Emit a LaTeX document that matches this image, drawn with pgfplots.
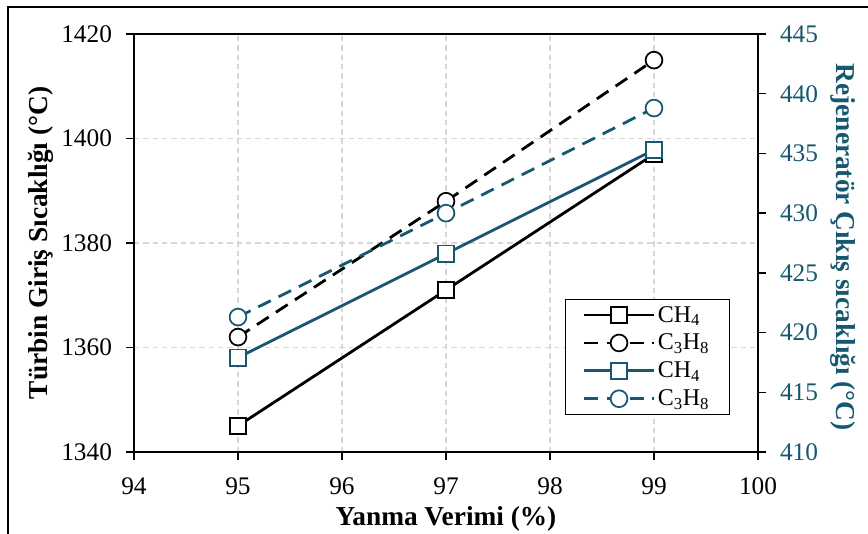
\documentclass[border=0pt]{standalone}
\usepackage{fontspec}
\setmainfont{Liberation Serif}
\usepackage{pgfplots}
\pgfplotsset{compat=1.18}
\definecolor{tealc}{RGB}{22,88,112}
\definecolor{blk}{RGB}{0,0,0}
\definecolor{gridgray}{RGB}{215,215,215}
\begin{document}
\begin{tikzpicture}
\pgfplotsset{
  common/.style={
    at={(0,0)}, anchor=south west,
    scale only axis, width=468pt, height=313.5pt,
    xmin=94, xmax=100,
    tick align=outside, major tick length=6pt,
    axis line style={line width=1.1pt},
    every tick/.style={black, line width=1.1pt},
    ticklabel style={font=\fontsize{19}{20}\selectfont},
    /pgf/number format/assume math mode=true,
    /pgf/number format/1000 sep={},
  },
  legend image code/.code={\draw[mark repeat=2,mark phase=2,#1] plot coordinates {(0pt,0pt) (26pt,0pt) (52pt,0pt)};},
  sq/.style={line width=2.1pt, mark=square*, mark size=6.1pt, mark options={solid, fill=white, line width=1.3pt}},
  ci/.style={line width=2.1pt, dash pattern=on 10.5pt off 6.5pt, mark=*, mark size=6.3pt, mark options={solid, fill=white, line width=1.3pt}},
  leftscale/.style={y filter/.expression={410+(y-1340)*35/80}},
}
\useasboundingbox (-100.5pt,-60.75pt) rectangle (550.5pt,339pt);
\draw[line width=1.5pt] (-94.5pt,-80pt) -- (-94.5pt,333.75pt) -- (570pt,333.75pt);

\begin{axis}[common,
  ymin=1340, ymax=1420,
  xtick={94,95,...,100}, ytick={1340,1360,...,1420},
  xtick pos=bottom, ytick pos=left,
  xticklabel style={yshift=-10pt},
  yticklabel style={xshift=-7pt},
  grid=major, major grid style={gridgray, line width=0.9pt, dash pattern=on 4pt off 3pt},
  xlabel={Yanma Verimi (\%)},
  ylabel={Türbin Giriş Sıcaklığı (°C)},
  every axis x label/.style={at={(axis description cs:0.5,-0.160)}, anchor=center, font=\fontsize{20.5}{22}\selectfont\bfseries},
  every axis y label/.style={at={(axis description cs:-0.150,0.5)}, anchor=center, rotate=90, font=\fontsize{20.5}{22}\selectfont\bfseries},
]
\end{axis}

\begin{axis}[common,
  ymin=410, ymax=445,
  ytick={410,415,...,445},
  axis x line=none, axis y line*=right,
  yticklabel style={text=tealc, xshift=7pt},
  ylabel={Rejeneratör Çıkış sıcaklığı (°C)},
  every axis y label/.style={at={(axis description cs:1.1362,0.49)}, anchor=center, rotate=-90, text=tealc, font=\fontsize{20.5}{22}\selectfont\bfseries},
  legend style={at={(0.955,0.0885)}, anchor=south east, draw=black, line width=1pt, fill=white,
    font=\fontsize{18}{21}\selectfont, inner xsep=13pt, inner ysep=3pt, row sep=3.5pt},
  legend cell align=left,
]
\addplot[color=blk, sq, leftscale] coordinates {(95,1345) (97,1371) (99,1397)};
\addlegendentry{CH\textsubscript{4}}
\addplot[color=blk, ci, leftscale] coordinates {(95,1362) (97,1388) (99,1415)};
\addlegendentry{C\textsubscript{3}H\textsubscript{8}}
\addplot[tealc, sq] coordinates {(95,417.9) (97,426.6) (99,435.3)};
\addlegendentry{CH\textsubscript{4}}
\addplot[tealc, ci] coordinates {(95,421.3) (97,430.0) (99,438.8)};
\addlegendentry{C\textsubscript{3}H\textsubscript{8}}
\end{axis}
\end{tikzpicture}
\end{document}
